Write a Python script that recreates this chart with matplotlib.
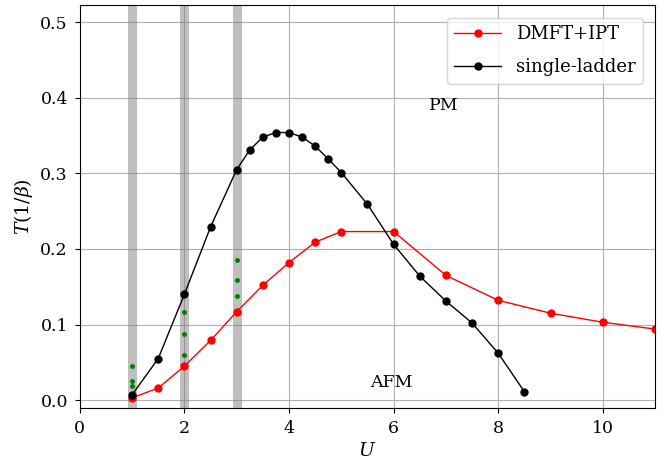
import matplotlib
matplotlib.use("Agg")
import matplotlib.pyplot as plt

plt.rcParams['font.family'] = ['DejaVu Serif']
plt.rcParams['mathtext.fontset'] = 'dejavuserif'
plt.rcParams['font.size'] = 12.5

# DMFT+IPT
u_ipt = [1, 1.5, 2, 2.5, 3, 3.5, 4, 4.5, 5, 6, 7, 8, 9, 10, 11]
t_ipt = [0.003, 0.016, 0.045, 0.079, 0.117, 0.152, 0.182, 0.209, 0.223,
         0.223, 0.165, 0.132, 0.115, 0.103, 0.094]

# single-ladder
u_lad = [1, 1.5, 2, 2.5, 3, 3.25, 3.5, 3.75, 4, 4.25, 4.5, 4.75, 5,
         5.5, 6, 6.5, 7, 7.5, 8, 8.5]
t_lad = [0.007, 0.055, 0.14, 0.229, 0.305, 0.331, 0.348, 0.354, 0.354,
         0.348, 0.336, 0.319, 0.301, 0.259, 0.206, 0.164, 0.131, 0.102,
         0.062, 0.011]

# extra points (green)
u_green = [1, 1, 1, 2, 2, 2, 3, 3, 3]
t_green = [0.045, 0.025, 0.0185, 0.116, 0.088, 0.06, 0.186, 0.159, 0.138]

bands = [1, 2, 3]

fig = plt.figure(figsize=(6.7, 4.68), dpi=100)
ax = fig.add_axes([0.119, 0.128, 0.859, 0.861])

for b in bands:
    ax.axvline(b, color='gray', alpha=0.5, lw=6.5)

ax.plot(u_ipt, t_ipt, 'o-', color='red', lw=1, ms=5, label='DMFT+IPT')
ax.plot(u_lad, t_lad, 'o-', color='black', lw=1, ms=5, label='single-ladder')
ax.plot(u_green, t_green, 'o', color='green', ms=2.5, lw=0)

ax.text(6.95, 0.39, 'PM', ha='center', va='center')
ax.text(5.95, 0.024, 'AFM', ha='center', va='center')

ax.set_xlim(0, 11)
ax.set_ylim(-0.0105, 0.5225)
ax.tick_params(pad=5)
ax.set_xlabel('$U$', fontsize=13.5)
ax.set_ylabel(r'$T(1/\beta)$', fontsize=13.5)
ax.grid(True)
ax.legend(loc='upper right', handlelength=2.6, borderaxespad=0.7,
          labelspacing=0.85, fontsize=13)

plt.savefig('out.png')
